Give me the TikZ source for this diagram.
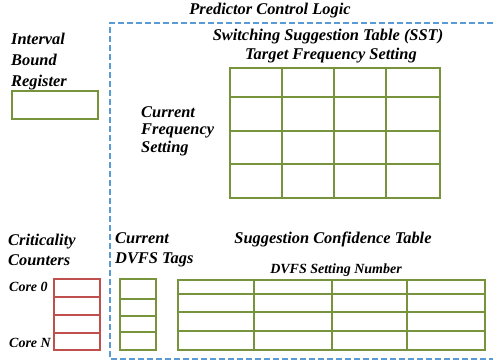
\documentclass[tikz,border=0pt]{standalone}
\usepackage{fontspec}
\setmainfont{Liberation Serif}
\definecolor{tblgreen}{RGB}{119, 147, 60}
\definecolor{ctrred}{RGB}{192, 80, 77}
\definecolor{logicblue}{RGB}{91, 155, 213}

\begin{document}
\begin{tikzpicture}[
    x=1pt, y=-1pt,
    lbl/.style={font=\fontsize{16.4}{21}\selectfont\bfseries\itshape, inner sep=0pt},
    smalllbl/.style={font=\fontsize{14}{16}\selectfont\bfseries\itshape, inner sep=0pt},
    grntbl/.style={draw=tblgreen, line width=2pt},
    grnline/.style={draw=tblgreen, line width=1.4pt},
    redtbl/.style={draw=ctrred, line width=1.7pt},
    region/.style={draw=logicblue, line width=1.3pt, dash pattern=on 6pt off 3pt}
]
    \useasboundingbox (0,0) rectangle (493,362);

    % predictor logic region (open at the right)
    \coordinate (regNE) at (493,23);
    \coordinate (regNW) at (110,23);
    \coordinate (regSW) at (110,359);
    \coordinate (regSE) at (493,359);
    \draw[region] (regNE) -- (regNW) -- (regSW) -- (regSE);
    \node[lbl] (title) at (270,11) {Predictor Control Logic};

    % interval bound register
    \node[lbl, align=left, anchor=west] (ibrlbl) at (11,62) {Interval\\Bound\\Register};
    \node[grntbl, minimum width=86pt, minimum height=28pt, anchor=north west, inner sep=0pt] (ibr) at (11,90) {};

    % switching suggestion table
    \node[lbl] (sstlbl) at (328,37) {Switching Suggestion Table (SST)};
    \node[lbl] (tfslbl) at (331,56) {Target Frequency Setting};
    \node[lbl, align=left, anchor=west, font=\fontsize{16.4}{17.5}\selectfont\bfseries\itshape] (cfslbl) at (141,131) {Current\\Frequency\\Setting};
    \foreach \c in {282,334,386}
        \draw[grnline] (\c,67) -- (\c,197);
    \foreach \r in {97,131,164}
        \draw[grnline] (229,\r) -- (441,\r);
    \node[grntbl, minimum width=210pt, minimum height=130pt, anchor=north west, inner sep=0pt] (sst) at (229,67) {};

    % criticality counters
    \node[lbl, align=left, anchor=west, font=\fontsize{16.4}{20}\selectfont\bfseries\itshape] (cclbl) at (8,250) {Criticality\\Counters};
    \node[smalllbl, anchor=west] (core0) at (9,287) {Core 0};
    \node[smalllbl, anchor=west] (coreN) at (9,343) {Core N};
    \foreach \r in {297,315,333}
        \draw[redtbl] (53,\r) -- (99,\r);
    \node[redtbl, minimum width=46pt, minimum height=71pt, anchor=north west, inner sep=0pt] (cc) at (53,278) {};

    % current dvfs tags
    \node[lbl, align=left, anchor=west, font=\fontsize{16.4}{20}\selectfont\bfseries\itshape] (tagslbl) at (115,250) {Current\\DVFS Tags};
    \foreach \r in {299,316,332}
        \draw[grnline] (119,\r) -- (155,\r);
    \node[grntbl, minimum width=36pt, minimum height=71pt, anchor=north west, inner sep=0pt] (tags) at (119,278) {};

    % suggestion confidence table
    \node[lbl] (sctlbl) at (333,239) {Suggestion Confidence Table};
    \node[smalllbl] (dsnlbl) at (336,270) {DVFS Setting Number};
    \foreach \c in {254,332,407}
        \draw[grntbl] (\c,279) -- (\c,349);
    \foreach \r in {294,312,331}
        \draw[grntbl] (177,\r) -- (484,\r);
    \node[grntbl, minimum width=307pt, minimum height=70pt, anchor=north west, inner sep=0pt] (sct) at (177,279) {};
\end{tikzpicture}
\end{document}
